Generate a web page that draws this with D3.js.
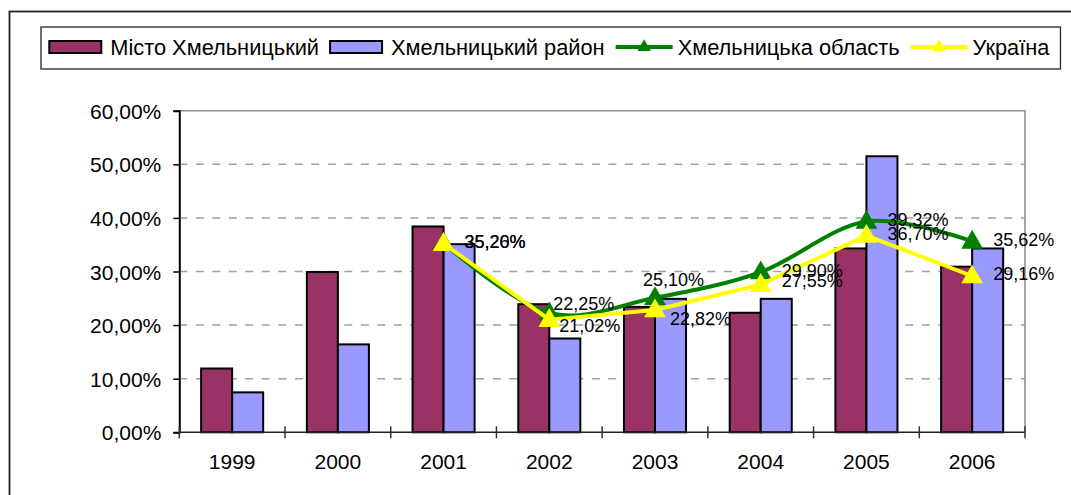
<!DOCTYPE html>
<html><head><meta charset="utf-8">
<script src="https://cdn.jsdelivr.net/npm/d3@7"></script>
<style>
body{margin:0;background:#fff}
svg{display:block;font-family:"Liberation Sans",Arial,sans-serif}
</style>
</head><body>
<svg id="chart" width="1071" height="495"></svg>
<script>
// ---- data ----
const years = ["1999","2000","2001","2002","2003","2004","2005","2006"];
const seriesNames = ["Місто Хмельницький","Хмельницький район","Хмельницька область","Україна"];
const cityValues = [11.9, 29.9, 38.4, 23.9, 23.4, 22.3, 34.3, 30.9];
const districtValues = [7.45, 16.4, 35.1, 17.5, 24.9, 24.9, 51.5, 34.3];
const oblastValues = [null, null, 35.26, 22.25, 25.10, 29.90, 39.32, 35.62];
const ukraineValues = [null, null, 35.20, 21.02, 22.82, 27.55, 36.70, 29.16];
const yTicks = [0, 10, 20, 30, 40, 50, 60];

// ---- layout ----
const svg = d3.select("#chart");
const L = 179.3, R = 1025, T = 110.7, B = 432.3;
const fmt = v => d3.format(".2f")(v).replace(".", ",") + "%";
const colors = {city:"#993366", district:"#9999FF", oblast:"#008000", ukraine:"#FFFF00"};

// outer frame (only left/top visible)
svg.append("rect").attr("x",9.5).attr("y",11.5).attr("width",1200).attr("height",700)
  .attr("fill","none").attr("stroke","#222").attr("stroke-width",1.8);

const x = d3.scaleBand().domain(years).range([L, R]).padding(0);
const groupW = x.bandwidth() * 0.587;
const x1 = d3.scaleBand().domain(["city","district"]).range([0, groupW]);
const y = d3.scaleLinear().domain([0, 60]).range([B, T]);

// grid lines (dashed)
svg.append("g").selectAll("line").data(yTicks.filter(t => t > 0 && t < 60)).join("line")
  .attr("x1", L).attr("x2", R).attr("y1", d => y(d)).attr("y2", d => y(d))
  .attr("stroke","#a0a0a0").attr("stroke-width",1.5).attr("stroke-dasharray","8,8.5");

// plot area top & right border
svg.append("path").attr("d", `M${L},${y(60)}H${R}V${B}`)
  .attr("fill","none").attr("stroke","#909090").attr("stroke-width",1.6);

// bars
const barData = [];
years.forEach((yr, i) => {
  barData.push({yr, key:"city", v: cityValues[i]});
  barData.push({yr, key:"district", v: districtValues[i]});
});
svg.append("g").selectAll("rect").data(barData).join("rect")
  .attr("x", d => x(d.yr) + (x.bandwidth() - groupW) / 2 + x1(d.key))
  .attr("width", x1.bandwidth())
  .attr("y", d => y(d.v))
  .attr("height", d => y(0) - y(d.v))
  .attr("fill", d => colors[d.key])
  .attr("stroke","#000").attr("stroke-width",2);

// axes
const yAxis = svg.append("g").attr("transform", `translate(${L},0)`)
  .call(d3.axisLeft(y).tickValues(yTicks).tickSize(6).tickPadding(12).tickFormat(fmt));
yAxis.select(".domain").attr("stroke","#000").attr("stroke-width",2);
yAxis.selectAll(".tick line").attr("stroke","#000").attr("stroke-width",1.5);
yAxis.selectAll("text").attr("font-size",21).attr("fill","#000")
  .attr("font-family","Liberation Sans, Arial, sans-serif").attr("dy","0.36em");

const xAxis = svg.append("g").attr("transform", `translate(0,${B})`)
  .call(d3.axisBottom(x).tickSize(0).tickPadding(22));
xAxis.select(".domain").remove();
xAxis.selectAll("text").attr("font-size",21).attr("fill","#000")
  .attr("font-family","Liberation Sans, Arial, sans-serif");
svg.append("line").attr("x1",L).attr("x2",R).attr("y1",B).attr("y2",B)
  .attr("stroke","#222").attr("stroke-width",1.6);
// category boundary tick marks (crossing)
const bounds = years.map(d => x(d)).concat([R]);
svg.append("g").selectAll("line").data(bounds).join("line")
  .attr("x1", d => d).attr("x2", d => d).attr("y1", B - 6).attr("y2", B + 6)
  .attr("stroke","#333").attr("stroke-width",1.5);

// lines
const cx = yr => x(yr) + x.bandwidth() / 2;
const lineSeries = [
  {key:"oblast", vals: oblastValues, curve: d3.curveCardinal.tension(0)},
  {key:"ukraine", vals: ukraineValues, curve: d3.curveLinear}
];
const tri = d3.symbol().type(d3.symbolTriangle).size(205);
lineSeries.forEach(s => {
  const pts = years.map((yr, i) => ({yr, v: s.vals[i]})).filter(p => p.v != null);
  svg.append("path").datum(pts)
    .attr("d", d3.line().x(p => cx(p.yr)).y(p => y(p.v)).curve(s.curve))
    .attr("fill","none").attr("stroke", colors[s.key]).attr("stroke-width",4)
    .attr("stroke-linejoin","round");
  svg.append("g").selectAll("path").data(pts).join("path")
    .attr("d", tri)
    .attr("transform", p => `translate(${cx(p.yr)},${y(p.v) + 1})`)
    .attr("fill", colors[s.key]);
});

// data labels (positioned right of points, some nudged as in the original)
const nudge = {
  oblast:  {"2002":[4,-10], "2003":[-12,-18], "2004":[21,-2]},
  ukraine: {"2002":[10,6],  "2003":[15,9],   "2004":[21,-4]}
};
lineSeries.forEach(s => {
  const pts = years.map((yr, i) => ({yr, v: s.vals[i]})).filter(p => p.v != null);
  svg.append("g").selectAll("text").data(pts).join("text")
    .attr("x", p => cx(p.yr) + ((nudge[s.key][p.yr] || [21,-2])[0]))
    .attr("y", p => y(p.v) + ((nudge[s.key][p.yr] || [21,-2])[1]))
    .attr("dy","0.36em")
    .attr("font-size",18).attr("fill","#000")
    .text(p => fmt(p.v));
});

// legend
const lg = svg.append("g");
const lgBox = lg.append("rect").attr("x",41).attr("y",27).attr("height",42)
  .attr("fill","#fff").attr("stroke","#222").attr("stroke-width",1.3);
const legendItems = [
  {name: seriesNames[0], key:"city", type:"bar"},
  {name: seriesNames[1], key:"district", type:"bar"},
  {name: seriesNames[2], key:"oblast", type:"line"},
  {name: seriesNames[3], key:"ukraine", type:"line"}
];
let lx = 49.3;
const ly = 47;
const smallTri = d3.symbol().type(d3.symbolTriangle).size(80);
legendItems.forEach(it => {
  if (it.type === "bar") {
    lg.append("rect").attr("x", lx).attr("y", ly - 6).attr("width", 52).attr("height", 12)
      .attr("fill", colors[it.key]).attr("stroke","#000").attr("stroke-width",2);
    lx += 61;
  } else {
    lg.append("line").attr("x1", lx).attr("x2", lx + 57).attr("y1", ly).attr("y2", ly)
      .attr("stroke", colors[it.key]).attr("stroke-width",4);
    lg.append("path").attr("d", smallTri).attr("transform", `translate(${lx + 28.5},${ly})`)
      .attr("fill", colors[it.key]);
    lx += 62;
  }
  const t = lg.append("text").attr("x", lx).attr("y", ly).attr("dy","0.36em")
    .attr("font-size",21.8).attr("fill","#000").text(it.name);
  lx += t.node().getComputedTextLength() + 11;
});
lgBox.attr("width", lx - 41);
</script>
</body></html>
